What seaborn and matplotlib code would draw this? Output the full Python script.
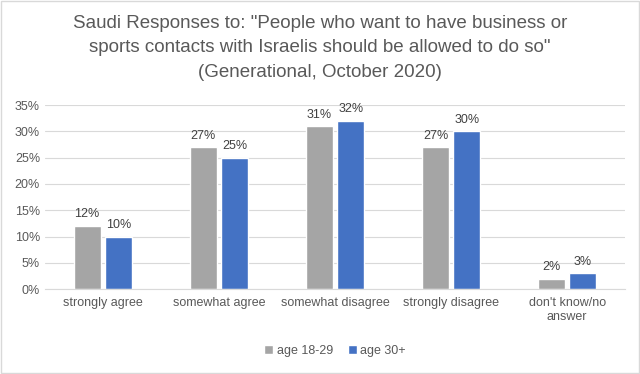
import pandas as pd
import matplotlib.pyplot as plt
import seaborn as sns
from matplotlib.ticker import PercentFormatter

# data
categories = ['strongly agree', 'somewhat agree', 'somewhat disagree',
              'strongly disagree', "don't know/no\nanswer"]
age_18_29 = [12, 27, 31, 27, 2]
age_30_plus = [10, 25, 32, 30, 3]
groups = ['age 18-29', 'age 30+']

data = pd.DataFrame({
    'category': categories * 2,
    'value': age_18_29 + age_30_plus,
    'group': [groups[0]] * len(categories) + [groups[1]] * len(categories),
})

sns.set_style('white')
plt.rcParams['font.family'] = ['Liberation Sans', 'DejaVu Sans']

fig = plt.figure(figsize=(6.4, 3.74), dpi=100)
ax = fig.add_axes([0.07, 0.227, 0.907, 0.492])

sns.barplot(data=data, x='category', y='value', hue='group',
            palette=['#A5A5A5', '#4472C4'], width=0.54, gap=0.14,
            saturation=1, ax=ax)

for cont in ax.containers:
    ax.bar_label(cont, fmt='%.0f%%', padding=4, fontsize=9, color='#404040')

ax.set_ylim(0, 35)
ax.set_yticks(range(0, 36, 5))
ax.yaxis.set_major_formatter(PercentFormatter(decimals=0))
ax.grid(axis='y', color='#D9D9D9', linewidth=0.8)
ax.set_axisbelow(True)
for s in ['top', 'right', 'left']:
    ax.spines[s].set_visible(False)
ax.spines['bottom'].set_color('#D9D9D9')
ax.tick_params(axis='both', labelsize=9, colors='#595959', length=0)
ax.tick_params(axis='x', pad=6)
ax.set_xlabel('')
ax.set_ylabel('')

fig.text(0.5, 1 - 48 / 374,
         'Saudi Responses to: "People who want to have business or\n'
         'sports contacts with Israelis should be allowed to do so"\n'
         '(Generational, October 2020)',
         ha='center', va='center', fontsize=13.5, color='#595959', linespacing=1.55)

ax.legend(loc='center', bbox_to_anchor=(0.5, (289 - 351) / 184), ncol=2,
          frameon=False, fontsize=9, handlelength=0.7, handleheight=0.7,
          columnspacing=1.2, handletextpad=0.3, labelcolor='#595959')

fig.patches.append(plt.Rectangle((0.001, 0.002), 0.997, 0.995, transform=fig.transFigure,
                                 fill=False, edgecolor='#D9D9D9', linewidth=1))

fig.savefig('out.png', dpi=100)
